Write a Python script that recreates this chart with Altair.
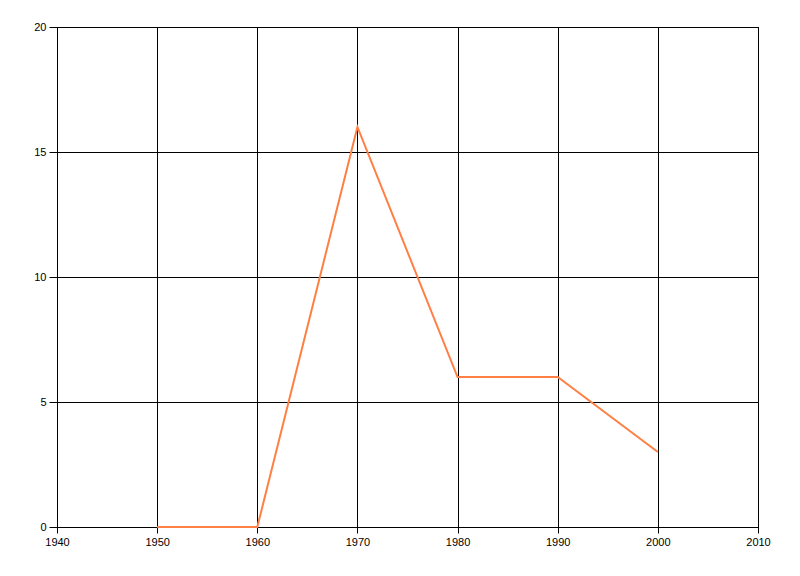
import altair as alt
import pandas as pd

years = [1950, 1960, 1970, 1980, 1990, 2000]
values = [0, 0, 16, 6, 6, 3]
x_ticks = [1940, 1950, 1960, 1970, 1980, 1990, 2000, 2010]
y_ticks = [0, 5, 10, 15, 20]

df = pd.DataFrame({"year": years, "value": values})

chart = alt.Chart(df).mark_line(color="#FF7F45", strokeWidth=2).encode(
    x=alt.X("year:Q", scale=alt.Scale(domain=[1940, 2010], nice=False, zero=False),
            axis=alt.Axis(values=x_ticks, format="d", title=None, tickSize=6,
                          labelPadding=3, grid=True, labelFlush=False)),
    y=alt.Y("value:Q", scale=alt.Scale(domain=[0, 20], nice=False),
            axis=alt.Axis(values=y_ticks, title=None, tickSize=8, labelPadding=3, grid=True,
                          labelFlush=False)),
).properties(
    width=701, height=500,
    autosize=alt.AutoSizeParams(type="none"),
    padding={"left": 49, "top": 19, "right": 34, "bottom": 41},
).configure_axis(
    gridColor="black", gridOpacity=1, gridWidth=1,
    domainColor="black", domainWidth=1,
    tickColor="black", tickWidth=1,
    labelColor="black", labelFont="Liberation Sans", labelFontSize=11,
).configure_view(stroke="black", strokeWidth=1)

chart.save("out.html", embed_options={"renderer": "svg", "actions": False})
